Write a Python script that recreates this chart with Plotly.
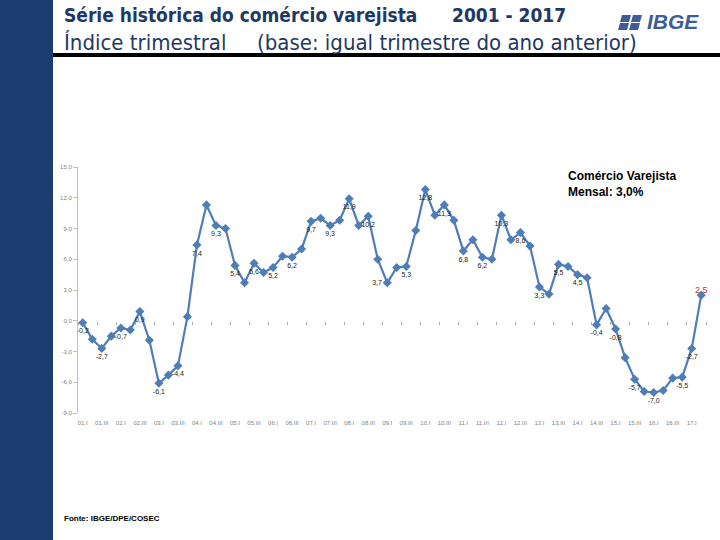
import plotly.graph_objects as go

# ---- data ----
years = list(range(2001, 2018))
quarters = ["I", "II", "III", "IV"]
periods = [f"{y % 100:02d}.{q}" for y in years for q in quarters][:66]  # 01.I .. 17.II

values = [-0.2, -1.8, -2.7, -1.5, -0.7, -0.9, 0.9, -1.9, -6.1, -5.3, -4.4, 0.4,
          7.4, 11.3, 9.3, 9.0, 5.4, 3.7, 5.6, 4.7, 5.2, 6.3, 6.2, 7.0,
          9.7, 10.0, 9.3, 9.8, 11.9, 9.3, 10.2, 6.0, 3.7, 5.2, 5.3, 8.8,
          12.8, 10.3, 11.3, 9.8, 6.8, 7.9, 6.2, 6.0, 10.3, 7.9, 8.6, 7.3,
          3.3, 2.6, 5.5, 5.3, 4.5, 4.2, -0.4, 1.2, -0.8, -3.6, -5.7, -6.9,
          -7.0, -6.8, -5.6, -5.5, -2.7, 2.5]

labeled = list(range(0, 61, 2)) + [63, 64, 65]
y_ticks = [-9, -6, -3, 0, 3, 6, 9, 12, 15]

# ---- geometry helpers (pixel -> paper) ----
L, R, T, B = 78, 706, 167, 413
def xp(px):
    return (px - L) / (R - L)
def yp(py):
    return (B - py) / (B - T)

idx = list(range(len(values)))
fmt = lambda v: f"{v:.1f}".replace(".", ",")
texts = [fmt(values[i]) if i in labeled else "" for i in idx]
texts[-1] = ""
positions = ["bottom center"] * len(values)
positions[32] = "middle left"

BLUE = "#4F7DB8"
FONT = "Liberation Sans, Arial, sans-serif"

fig = go.Figure()
fig.add_trace(go.Scatter(
    x=idx, y=values, mode="lines+markers+text",
    line=dict(color=BLUE, width=2.2),
    marker=dict(symbol="diamond", size=7, color=BLUE),
    text=texts, textposition=positions,
    textfont=dict(family=FONT, size=7, color="#222222"),
    hoverinfo="skip", showlegend=False, cliponaxis=False,
))
# last value highlighted in red
fig.add_trace(go.Scatter(
    x=[idx[-1]], y=[values[-1]], mode="text",
    text=[fmt(values[-1])], textposition="top center",
    textfont=dict(family=FONT, size=9, color="#C0392B"),
    hoverinfo="skip", showlegend=False, cliponaxis=False,
))

even = idx[::2]
fig.update_layout(
    width=720, height=540,
    margin=dict(l=L, r=720 - R, t=T, b=540 - B),
    paper_bgcolor="white", plot_bgcolor="white",
    font=dict(family=FONT),
    xaxis=dict(range=[-0.5, 65.5], tickvals=even, ticktext=[periods[i] for i in even],
               tickangle=0, tickfont=dict(size=6, color="#7F7F7F"),
               showgrid=False, zeroline=False, showline=False, ticks="",
               ticklabelstandoff=5),
    xaxis2=dict(overlaying="x", anchor="free", position=yp(320.75), range=[-0.5, 65.5],
                tickvals=[-0.5 + 2 * k for k in range(34)], showticklabels=False,
                ticks="outside", ticklen=3, tickcolor="#A6A6A6", tickwidth=1,
                showline=False, showgrid=False, zeroline=False),
    yaxis=dict(range=[-9, 15], tickvals=y_ticks,
               ticktext=[f"{v:.1f}".replace(".", ",") for v in y_ticks],
               tickfont=dict(size=6, color="#7F7F7F"),
               showgrid=False, zeroline=False, showline=True, linecolor="#BFBFBF",
               ticks="outside", ticklen=4, tickcolor="#BFBFBF"),
)
# invisible trace to activate xaxis2
fig.add_trace(go.Scatter(x=[-0.5, 65.5], y=[0, 0], xaxis="x2", mode="lines",
                         line=dict(width=0), hoverinfo="skip", showlegend=False))

shapes = [
    dict(type="rect", xref="paper", yref="paper", x0=xp(0), x1=xp(53), y0=yp(540), y1=yp(0),
         fillcolor="#1B3C6E", line=dict(width=0), layer="below"),
    dict(type="line", xref="paper", yref="paper", x0=xp(53), x1=xp(720), y0=yp(55), y1=yp(55),
         line=dict(color="black", width=4)),
]
# small IBGE icon
for (cx, cy) in [(620, 15), (631, 15), (618, 23), (629, 23)]:
    shapes.append(dict(type="path", xref="paper", yref="paper",
                       path=f"M {xp(cx+2)} {yp(cy)} L {xp(cx+11)} {yp(cy)} L {xp(cx+9)} {yp(cy+7)} L {xp(cx)} {yp(cy+7)} Z",
                       fillcolor="#3D5C99", line=dict(width=0)))
fig.update_layout(shapes=shapes)

TITLE_FONT = "Liberation Sans Narrow, DejaVu Sans Condensed, sans-serif"
ann = [
    dict(x=xp(62), y=yp(15), text="<b>Série histórica do comércio varejista</b>", xanchor="left", yanchor="middle",
         font=dict(family=TITLE_FONT, size=19, color="#1F3864")),
    dict(x=xp(450), y=yp(15), text="<b>2001 - 2017</b>", xanchor="left", yanchor="middle",
         font=dict(family=TITLE_FONT, size=19, color="#1F3864")),
    dict(x=xp(62), y=yp(42), text="Índice trimestral", xanchor="left", yanchor="middle",
         font=dict(family=TITLE_FONT, size=22, color="#1F3864")),
    dict(x=xp(255), y=yp(42), text="(base: igual trimestre do ano anterior)", xanchor="left", yanchor="middle",
         font=dict(family=TITLE_FONT, size=22, color="#1F3864")),
    dict(x=xp(645), y=yp(21), text="<b><i>IBGE</i></b>", xanchor="left", yanchor="middle",
         font=dict(family="Liberation Sans, Arial, sans-serif", size=21, color="#3D5C99")),
    dict(x=xp(566), y=yp(167), text="<b>Comércio Varejista<br>Mensal: 3,0%</b>", xanchor="left", yanchor="top",
         align="left", font=dict(family=FONT, size=12, color="black")),
    dict(x=xp(62), y=yp(518), text="<b>Fonte: IBGE/DPE/COSEC</b>", xanchor="left", yanchor="middle",
         font=dict(family=FONT, size=8, color="black")),
]
for a in ann:
    a.update(xref="paper", yref="paper", showarrow=False)
fig.update_layout(annotations=ann)

fig.write_html("out.html", config={"displayModeBar": False},
               post_script="document.body.style.margin='0';document.body.style.padding='0';")
